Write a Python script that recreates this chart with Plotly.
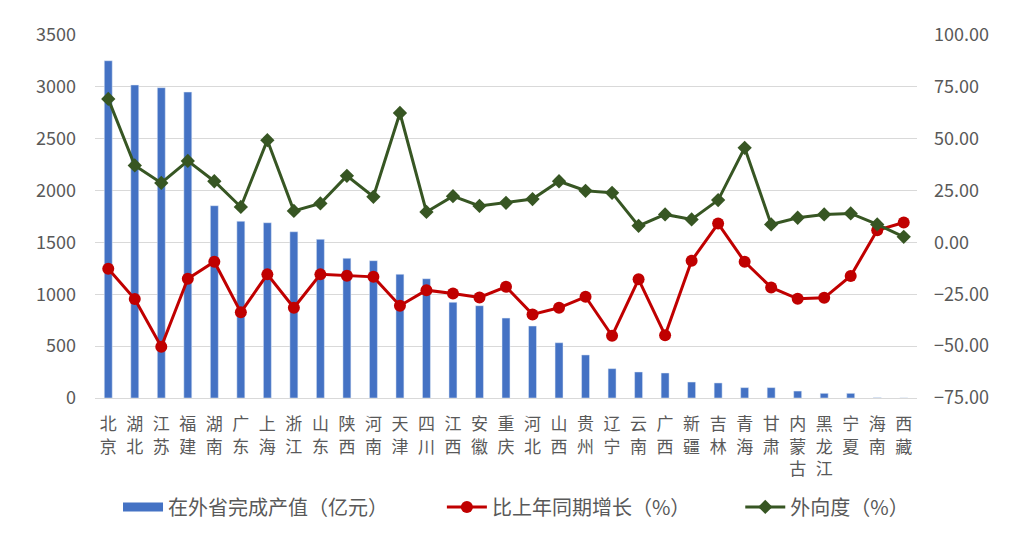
import plotly.graph_objects as go

provinces = ['北京', '湖北', '江苏', '福建', '湖南', '广东', '上海', '浙江', '山东', '陕西', '河南',
             '天津', '四川', '江西', '安徽', '重庆', '河北', '山西', '贵州', '辽宁', '云南', '广西',
             '新疆', '吉林', '青海', '甘肃', '内蒙古', '黑龙江', '宁夏', '海南', '西藏']

output_value = [3252, 3018, 2992, 2950, 1854, 1704, 1690, 1603, 1530, 1347, 1324,
                1193, 1150, 923, 890, 771, 694, 533, 415, 283, 251, 241,
                154, 145, 100, 100, 67, 45, 45, 3, 1]

growth = [-12.7, -27.3, -50.3, -17.5, -9.3, -33.7, -15.4, -31.5, -15.4, -16.1, -16.6,
          -30.5, -23.0, -24.6, -26.5, -21.4, -34.7, -31.5, -26.2, -45.0, -17.8, -44.7,
          -8.8, 9.1, -9.3, -21.7, -27.2, -26.7, -16.2, 5.9, 9.6]

outward = [69.2, 37.1, 28.7, 39.3, 29.5, 17.1, 49.3, 15.2, 18.8, 32.1, 22.0,
           62.4, 14.7, 22.3, 17.6, 19.1, 20.9, 29.5, 24.9, 23.9, 8.0, 13.5,
           11.1, 20.4, 45.6, 8.7, 11.9, 13.5, 14.0, 8.7, 2.7]

left_ticks = [0, 500, 1000, 1500, 2000, 2500, 3000, 3500]
right_ticks = [-75, -50, -25, 0, 25, 50, 75, 100]

FONT = 'Noto Sans CJK SC'
TEXT_GREY = '#595959'
BAR_BLUE = '#4472C4'


def create_traces():
    """
    Bars on the left axis, both percentage lines on the right one.
    """
    return [
        go.Bar(x=provinces, y=output_value, name='在外省完成产值（亿元）',
               marker_color=BAR_BLUE, yaxis='y', legendgroup='bar', showlegend=False),
        # legend-only stand-in so the bar key is a wide flat swatch like the excel one
        go.Scatter(x=[None], y=[None], name='在外省完成产值（亿元）', mode='lines',
                   line=dict(color=BAR_BLUE, width=9), legendgroup='bar', yaxis='y',
                   legend='legend'),
        go.Scatter(x=provinces, y=growth, name='比上年同期增长（%）', mode='lines+markers',
                   line=dict(color='#C00000', width=3),
                   marker=dict(symbol='circle', size=12, color='#C00000'),
                   yaxis='y2', legend='legend2'),
        go.Scatter(x=provinces, y=outward, name='外向度（%）', mode='lines+markers',
                   line=dict(color='#375623', width=3),
                   marker=dict(symbol='diamond', size=11, color='#375623'),
                   yaxis='y2', legend='legend3'),
    ]


def legend_at(x):
    """
    One single-entry legend box, so each key can sit where excel put it.
    """
    return dict(orientation='h', x=x, xanchor='left', y=-0.30, yanchor='middle',
                font=dict(size=20, color=TEXT_GREY), itemwidth=40,
                bgcolor='rgba(0,0,0,0)')


def create_plot(traces):
    """
    Lay out the dual axis chart and write it out.
    """
    fig = go.Figure(data=traces)
    # stack the characters so the labels read top to bottom like the original
    tick_text = ['<br>'.join(p) for p in provinces]
    fig.update_layout(
        width=1024, height=547,
        # page body has an 8px margin, so these are shifted to land the plot at 95..917 / 35..398
        margin=dict(l=87, r=115, t=27, b=157, autoexpand=False),
        paper_bgcolor='white', plot_bgcolor='white',
        font=dict(family=FONT, size=18, color=TEXT_GREY),
        bargap=0.7,
        showlegend=True,
        legend=legend_at(0.028),
        legend2=legend_at(0.422),
        legend3=legend_at(0.785),
        xaxis=dict(tickvals=provinces, ticktext=tick_text, tickangle=0,
                   range=[-0.5, len(provinces) - 0.5], autorange=False,
                   showline=True, linecolor='#D9D9D9', linewidth=1,
                   ticks='', tickfont=dict(size=17, color=TEXT_GREY),
                   ticklabelstandoff=11),
        yaxis=dict(range=[0, 3500], tickvals=left_ticks, showgrid=True,
                   gridcolor='#D9D9D9', gridwidth=1, zeroline=False, ticks='',
                   ticklabelstandoff=18),
        yaxis2=dict(range=[-75, 100], tickvals=right_ticks, tickformat='.2f',
                    overlaying='y', side='right', showgrid=False, zeroline=False,
                    ticks='', ticklabelstandoff=16),
    )
    fig.write_html("out.html")


def main():
    traces = create_traces()
    create_plot(traces)


if __name__ == "__main__":
    main()
